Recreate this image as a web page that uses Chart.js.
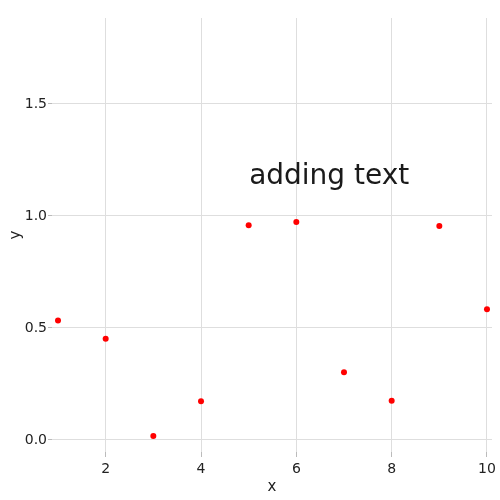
<!DOCTYPE html>
<html>
<head>
<meta charset="utf-8">
<script src="https://cdn.jsdelivr.net/npm/chart.js@4"></script>
<style>
  html, body { margin: 0; padding: 0; background: #fff; }
  #wrap { width: 500px; height: 500px; }
</style>
</head>
<body>
<div id="wrap"><canvas id="chart"></canvas></div>
<script>
// === Data ===
const xValues = [1, 2, 3, 4, 5, 6, 7, 8, 9, 10];
const yValues = [0.533, 0.452, 0.018, 0.173, 0.958, 0.973, 0.302, 0.175, 0.955, 0.583];
const xTicks = [2, 4, 6, 8, 10];
const yTicks = [0, 0.5, 1.0, 1.5];
const noteText = "adding text";
const notePos = [6.69, 1.174];

// === Text annotation drawn at data coordinates ===
const notePlugin = {
  id: "note",
  afterDatasetsDraw(chart) {
    const { ctx, scales } = chart;
    ctx.save();
    ctx.font = "28px 'DejaVu Sans'";
    ctx.fillStyle = "#1a1a1a";
    ctx.textAlign = "center";
    ctx.textBaseline = "middle";
    ctx.fillText(noteText, scales.x.getPixelForValue(notePos[0]), scales.y.getPixelForValue(notePos[1]));
    ctx.restore();
  },
};

const ctx = document.getElementById("chart").getContext("2d");
new Chart(ctx, {
  type: "scatter",
  data: {
    datasets: [
      {
        data: xValues.map((x, i) => ({ x, y: yValues[i] })),
        backgroundColor: "#ff0000",
        borderWidth: 0,
        pointRadius: 3,
      },
    ],
  },
  options: {
    responsive: true,
    maintainAspectRatio: false,
    animation: false,
    layout: { padding: { top: 18, right: 8, left: 0, bottom: 0 } },
    plugins: { legend: { display: false }, tooltip: { enabled: false } },
    scales: {
      x: {
        type: "linear",
        min: 0.874,
        max: 10.105,
        afterBuildTicks: (s) => { s.ticks = xTicks.map((v) => ({ value: v })); },
        afterFit: (s) => { s.height = 48; },
        border: { display: false },
        grid: { color: "#dedede", tickLength: 5, tickColor: "#bbb" },
        ticks: { color: "#222", font: { family: "DejaVu Sans", size: 14 }, padding: 4 },
        title: { display: true, text: "x", color: "#222", font: { family: "DejaVu Sans", size: 15 }, padding: { top: 4, bottom: 4 } },
      },
      y: {
        type: "linear",
        min: -0.054,
        max: 1.884,
        afterBuildTicks: (s) => { s.ticks = yTicks.map((v) => ({ value: v })); },
        afterFit: (s) => { s.width = 52; },
        border: { display: false },
        grid: { color: "#dedede", tickLength: 4, tickColor: "#bbb" },
        ticks: {
          color: "#222",
          font: { family: "DejaVu Sans", size: 14 },
          padding: 1,
          callback: (v) => v.toFixed(1),
        },
        title: { display: true, text: "y", color: "#222", font: { family: "DejaVu Sans", size: 15 }, padding: { top: 7, bottom: 0 } },
      },
    },
  },
  plugins: [notePlugin],
});
</script>
</body>
</html>
